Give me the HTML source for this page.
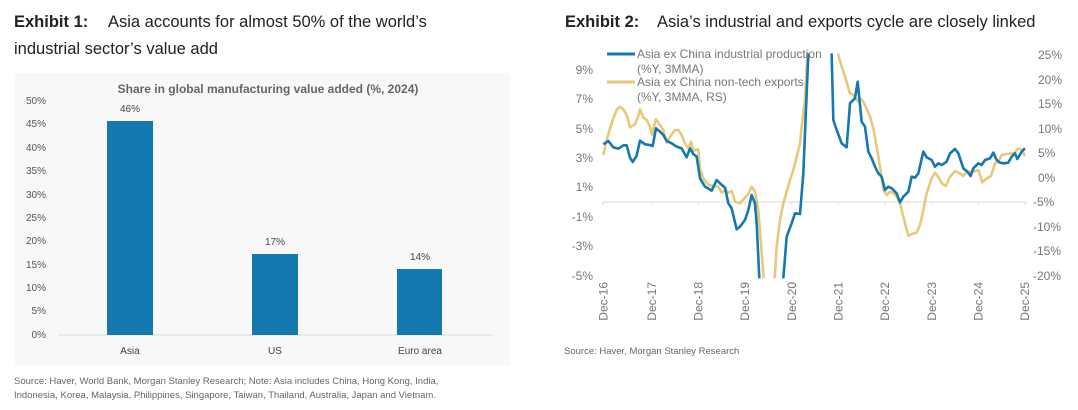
<!DOCTYPE html>
<html><head><meta charset="utf-8"><style>
body{margin:0;background:#fff;width:1078px;height:405px;overflow:hidden;font-family:"Liberation Sans",sans-serif}
</style></head><body>
<svg width="1078" height="405" xmlns="http://www.w3.org/2000/svg" font-family="Liberation Sans, sans-serif">
<text x="14" y="27" font-size="16.5" fill="#222"><tspan font-weight="bold">Exhibit 1:</tspan><tspan x="108">Asia accounts for almost 50% of the world’s</tspan></text>
<text x="14" y="54" font-size="16.5" fill="#222">industrial sector’s value add</text>
<text x="565" y="27" font-size="16.5" fill="#222"><tspan font-weight="bold">Exhibit 2:</tspan><tspan x="657">Asia’s industrial and exports cycle are closely linked</tspan></text>

<rect x="15" y="73" width="495" height="293" fill="#f8f8f8"/>
<text x="268" y="93" font-size="12" font-weight="bold" fill="#666" text-anchor="middle">Share in global manufacturing value added (%, 2024)</text>
<g font-size="10" fill="#555" text-anchor="end">
<text x="46" y="104">50%</text><text x="46" y="127">45%</text><text x="46" y="151">40%</text><text x="46" y="174">35%</text><text x="46" y="198">30%</text><text x="46" y="221">25%</text><text x="46" y="244">20%</text><text x="46" y="268">15%</text><text x="46" y="291">10%</text><text x="46" y="314">5%</text><text x="46" y="338">0%</text>
</g>
<line x1="58" y1="335" x2="493" y2="335" stroke="#ddd" stroke-width="1"/>
<rect x="107" y="121" width="46" height="214" fill="#1479b0"/>
<rect x="252" y="254" width="46" height="81" fill="#1479b0"/>
<rect x="397" y="269" width="45" height="66" fill="#1479b0"/>
<g font-size="10" fill="#444" text-anchor="middle">
<text x="130" y="112">46%</text><text x="275" y="245">17%</text><text x="420" y="260">14%</text>
<text x="130" y="354">Asia</text><text x="275" y="354">US</text><text x="420" y="354">Euro area</text>
</g>
<g font-size="9.5" fill="#666">
<text x="14" y="384">Source: Haver, World Bank, Morgan Stanley Research; Note: Asia includes China, Hong Kong, India,</text>
<text x="14" y="398">Indonesia, Korea, Malaysia, Philippines, Singapore, Taiwan, Thailand, Australia, Japan and Vietnam.</text>
<text x="564" y="354">Source: Haver, Morgan Stanley Research</text>
</g>

<line x1="603" y1="202" x2="1027" y2="202" stroke="#ddd" stroke-width="1"/>
<g stroke="#ddd"><line x1="603" y1="202" x2="603" y2="205"/><line x1="651.7" y1="202" x2="651.7" y2="205"/><line x1="698.3" y1="202" x2="698.3" y2="205"/><line x1="745" y1="202" x2="745" y2="205"/><line x1="791.7" y1="202" x2="791.7" y2="205"/><line x1="838.3" y1="202" x2="838.3" y2="205"/><line x1="885" y1="202" x2="885" y2="205"/><line x1="931.7" y1="202" x2="931.7" y2="205"/><line x1="978.3" y1="202" x2="978.3" y2="205"/><line x1="1025" y1="202" x2="1025" y2="205"/></g>
<g font-size="12" fill="#777" text-anchor="end">
<text x="593" y="74">9%</text><text x="593" y="103">7%</text><text x="593" y="133">5%</text><text x="593" y="162">3%</text><text x="593" y="191">1%</text><text x="593" y="221">-1%</text><text x="593" y="250">-3%</text><text x="593" y="280">-5%</text>
</g>
<g font-size="12" fill="#777">
<text x="1038" y="59">25%</text><text x="1038" y="84">20%</text><text x="1038" y="108">15%</text><text x="1038" y="133">10%</text><text x="1038" y="157">5%</text><text x="1038" y="182">0%</text><text x="1033" y="206">-5%</text><text x="1033" y="231">-10%</text><text x="1033" y="255">-15%</text><text x="1033" y="280">-20%</text>
</g>
<g font-size="12" fill="#777" text-anchor="end">
<text transform="translate(607.5,282) rotate(-90)">Dec-16</text>
<text transform="translate(656,282) rotate(-90)">Dec-17</text>
<text transform="translate(702.5,282) rotate(-90)">Dec-18</text>
<text transform="translate(749,282) rotate(-90)">Dec-19</text>
<text transform="translate(796,282) rotate(-90)">Dec-20</text>
<text transform="translate(842.5,282) rotate(-90)">Dec-21</text>
<text transform="translate(889,282) rotate(-90)">Dec-22</text>
<text transform="translate(936,282) rotate(-90)">Dec-23</text>
<text transform="translate(982.5,282) rotate(-90)">Dec-24</text>
<text transform="translate(1029,282) rotate(-90)">Dec-25</text>
</g>
<defs><clipPath id="c"><rect x="120" y="40" width="1290" height="675"/></clipPath></defs>
<g transform="translate(560,40) scale(0.33333)" clip-path="url(#c)" fill="none" stroke-linejoin="round">
<polyline stroke="#e8c97a" stroke-width="2.6" vector-effect="non-scaling-stroke" points="130,345 140,300 150,265 160,235 170,210 180,200 190,208 200,225 210,262 225,253 235,228 240,208 250,233 260,240 270,260 277,285 287,238 300,255 310,270 320,308 330,290 345,270 355,270 365,285 375,310 385,325 393,305 400,332 415,328 420,385 430,415 445,435 460,438 475,440 485,458 495,450 505,458 515,453 525,485 540,490 550,478 565,462 575,440 585,455 595,510 602,600 610,700 618,780 640,780 650,620 660,540 670,490 680,455 690,420 700,390 710,350 720,310 725,260 735,180 742,40 750,-60 828,-60 835,45 845,80 855,110 870,160 880,165 895,185 905,178 915,195 930,230 940,265 950,320 960,380 970,450 980,465 990,455 1000,460 1010,470 1020,490 1030,530 1045,587 1060,580 1070,578 1080,555 1090,510 1100,460 1115,415 1125,398 1135,410 1145,430 1158,438 1170,410 1185,393 1200,400 1210,408 1220,395 1240,395 1255,390 1267,427 1280,415 1293,408 1305,370 1315,365 1325,345 1340,342 1355,340 1365,338 1375,325 1385,330 1395,348"/>
<polyline stroke="#1479b0" stroke-width="2.6" vector-effect="non-scaling-stroke" points="130,313 145,303 160,322 175,326 190,316 200,316 210,353 218,366 230,347 240,302 255,313 270,315 278,318 288,265 300,275 310,285 320,303 335,310 350,320 365,325 380,352 390,325 400,342 410,350 420,415 435,440 455,452 470,420 480,430 495,443 505,490 515,505 530,568 540,560 555,540 565,510 575,465 585,490 590,550 598,715 605,790 665,790 670,715 680,590 695,550 705,520 720,522 730,400 737,230 745,45 750,-60 810,-60 815,45 820,240 830,270 845,310 860,322 870,190 885,175 893,125 905,245 915,260 925,335 935,355 945,380 955,400 965,410 975,450 985,440 995,445 1010,460 1020,487 1030,470 1045,455 1055,410 1065,413 1075,400 1090,335 1100,352 1115,360 1125,380 1135,370 1145,375 1160,365 1170,340 1185,327 1195,340 1210,385 1220,393 1232,408 1240,385 1255,370 1265,375 1275,360 1290,355 1300,338 1310,360 1320,368 1330,370 1345,368 1355,350 1365,340 1372,357 1385,335 1395,325"/>
</g>
<rect x="636" y="45" width="195" height="56" fill="none"/>
<line x1="607" y1="54" x2="635" y2="54" stroke="#1479b0" stroke-width="3"/>
<line x1="607" y1="82" x2="635" y2="82" stroke="#e8c97a" stroke-width="3"/>
<g font-size="12" fill="#777">
<text x="637" y="58">Asia ex China industrial production</text>
<text x="637" y="73">(%Y, 3MMA)</text>
<text x="637" y="86">Asia ex China non-tech exports</text>
<text x="637" y="101">(%Y, 3MMA, RS)</text>
</g>
</svg>
</body></html>
